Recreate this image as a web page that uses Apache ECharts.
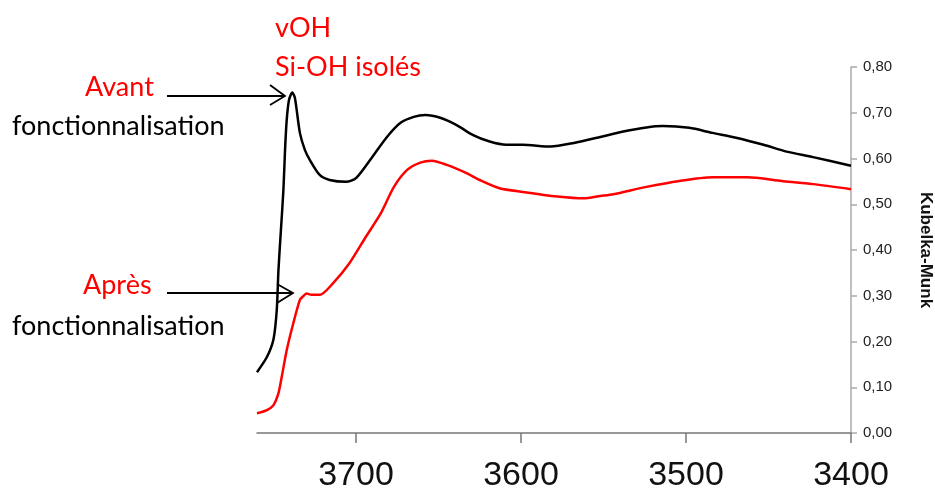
<!DOCTYPE html>
<html>
<head>
<meta charset="utf-8">
<script src="https://cdn.jsdelivr.net/npm/echarts@6/dist/echarts.min.js"></script>
<style>html,body{margin:0;padding:0;background:#fff;}#c{width:935px;height:488px;}</style>
</head>
<body>
<div id="c"></div>
<script>
// Wavenumber (cm-1) and Kubelka-Munk values
var avantX = [3760,3754,3750,3748,3747,3745.5,3744,3743,3742,3740.6,3738.6,3737,3734,3731,3728,3722,3716,3706,3700,3690,3681,3673,3665,3658,3649,3639,3629,3619,3609,3599,3582,3568,3552,3538,3524,3514,3498,3484,3469,3453,3439,3423,3400];
var avantY = [0.133,0.166,0.205,0.270,0.356,0.444,0.531,0.619,0.684,0.728,0.744,0.732,0.656,0.619,0.597,0.564,0.553,0.549,0.557,0.604,0.648,0.678,0.691,0.695,0.689,0.673,0.651,0.637,0.630,0.630,0.626,0.634,0.647,0.659,0.668,0.671,0.667,0.656,0.645,0.630,0.615,0.603,0.584];
var apresX = [3760,3754,3750,3747,3745,3742,3738,3734,3732,3730,3727,3722,3714,3704,3694,3685,3677,3669,3661,3654,3645,3633,3625,3613,3599,3578,3562,3552,3544,3524,3504,3484,3463,3442,3423,3400];
var apresY = [0.043,0.050,0.061,0.087,0.123,0.181,0.240,0.291,0.299,0.305,0.302,0.302,0.327,0.371,0.429,0.480,0.538,0.575,0.591,0.595,0.586,0.568,0.553,0.535,0.527,0.517,0.513,0.518,0.522,0.538,0.551,0.559,0.559,0.551,0.544,0.533];
var xTicks = [3400,3500,3600,3700];
var yName = 'Kubelka-Munk';

function pairs(xs, ys){ return xs.map(function(x,i){ return [x, ys[i]]; }); }

var chart = echarts.init(document.getElementById('c'), null, {renderer:'canvas'});
var txtFont = '27px Lato';
chart.setOption({
  animation:false,
  backgroundColor:'#fff',
  grid:{left:257, right:84, top:67, bottom:55, containLabel:false, outerBoundsMode:'none'},
  xAxis:{
    type:'value', inverse:true, min:3400, max:3760,
    axisLine:{lineStyle:{color:'#777', width:1.5}},
    axisTick:{customValues:xTicks, length:10, lineStyle:{color:'#777', width:1.5}},
    axisLabel:{customValues:xTicks, margin:26, color:'#111', fontSize:34, fontFamily:'Liberation Sans',
      formatter:function(v){ return String(v); }},
    splitLine:{show:false}
  },
  yAxis:{
    type:'value', position:'right', min:0, max:0.8, interval:0.1,
    name:yName, nameLocation:'middle', nameRotate:-90, nameGap:66,
    nameTextStyle:{fontWeight:'bold', fontSize:17, color:'#111', fontFamily:'Liberation Sans'},
    axisLine:{show:true, lineStyle:{color:'#aaa', width:1.5}},
    axisTick:{show:true, length:6, lineStyle:{color:'#aaa', width:1.5}},
    axisLabel:{margin:12, color:'#222', fontSize:15, fontFamily:'Liberation Sans',
      formatter:function(v){ return v.toFixed(2).replace('.', ','); }},
    splitLine:{show:false}
  },
  series:[
    {type:'line', data:pairs(avantX, avantY), showSymbol:false, smooth:0.25,
     lineStyle:{color:'#000', width:2.5}, z:3},
    {type:'line', data:pairs(apresX, apresY), showSymbol:false, smooth:0.25,
     lineStyle:{color:'#ff0000', width:2.5}, z:2}
  ],
  graphic:[
    {type:'text', style:{text:'vOH', x:275, y:28, font:txtFont, fill:'#ff0000', align:'left', verticalAlign:'middle'}},
    {type:'text', style:{text:'Si-OH isolés', x:275, y:67, font:txtFont, fill:'#ff0000', align:'left', verticalAlign:'middle'}},
    {type:'text', style:{text:'Avant', x:85, y:87, font:txtFont, fill:'#ff0000', align:'left', verticalAlign:'middle'}},
    {type:'text', style:{text:'fonctionnalisation', x:12, y:126, font:txtFont, fill:'#000', align:'left', verticalAlign:'middle'}},
    {type:'text', style:{text:'Après', x:83, y:285, font:txtFont, fill:'#ff0000', align:'left', verticalAlign:'middle'}},
    {type:'text', style:{text:'fonctionnalisation', x:12, y:326, font:txtFont, fill:'#000', align:'left', verticalAlign:'middle'}},
    {type:'line', shape:{x1:167, y1:96, x2:285, y2:96}, style:{stroke:'#000', lineWidth:1.8}},
    {type:'polyline', shape:{points:[[270,85],[285,96],[270,105]]}, style:{stroke:'#000', lineWidth:1.8, fill:null}},
    {type:'line', shape:{x1:167, y1:293, x2:293, y2:293}, style:{stroke:'#000', lineWidth:1.8}},
    {type:'polyline', shape:{points:[[277,284],[293,293],[277,303]]}, style:{stroke:'#000', lineWidth:1.8, fill:null}}
  ]
});
</script>
</body>
</html>
